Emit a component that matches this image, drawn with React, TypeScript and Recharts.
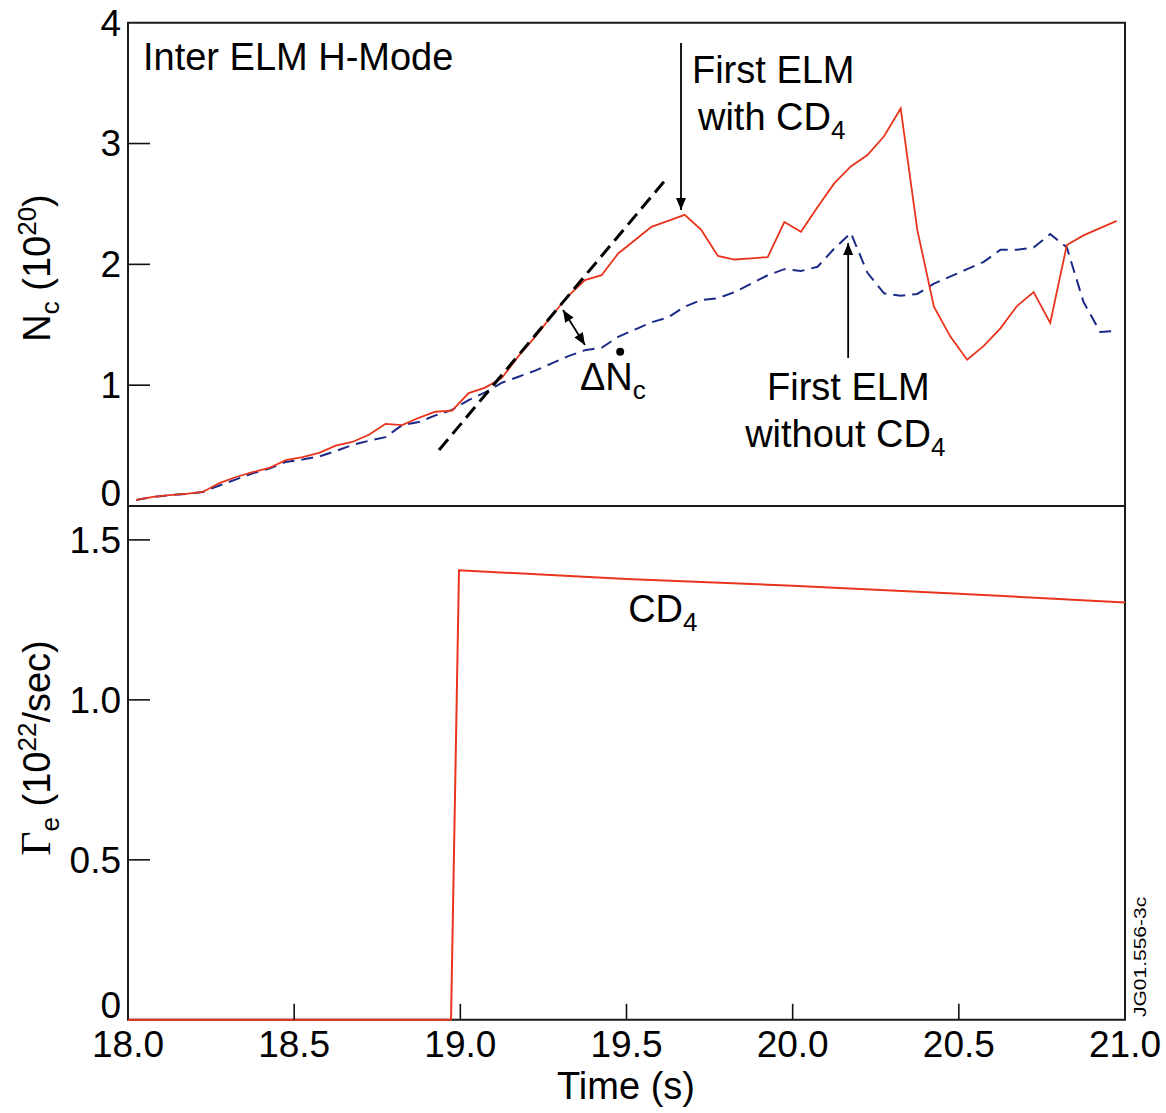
import React from 'react';
import { LineChart, Line, XAxis, YAxis, ReferenceLine, ReferenceDot, ReferenceArea } from 'recharts';

// ---------- data ----------
const timeNc = [
  18.025, 18.075, 18.125, 18.175, 18.225, 18.275, 18.325, 18.375, 18.425, 18.475,
  18.525, 18.575, 18.625, 18.675, 18.725, 18.775, 18.825, 18.875, 18.925, 18.975,
  19.025, 19.075, 19.125, 19.175, 19.225, 19.275, 19.325, 19.375, 19.425, 19.475,
  19.525, 19.575, 19.625, 19.675, 19.725, 19.775, 19.825, 19.875, 19.925, 19.975,
  20.025, 20.075, 20.125, 20.175, 20.225, 20.275, 20.325, 20.375, 20.425, 20.475,
  20.525, 20.575, 20.625, 20.675, 20.725, 20.775, 20.825, 20.875, 20.925, 20.975,
];
const ncWithCD4 = [
  0.05, 0.075, 0.09, 0.1, 0.116, 0.19, 0.24, 0.28, 0.315, 0.38,
  0.405, 0.44, 0.5, 0.53, 0.59, 0.68, 0.67, 0.73, 0.78, 0.79,
  0.935, 0.98, 1.06, 1.24, 1.4, 1.575, 1.74, 1.87, 1.91, 2.09,
  2.2, 2.31, 2.36, 2.41, 2.285, 2.07, 2.04, 2.05, 2.06, 2.35,
  2.27, 2.475, 2.67, 2.81, 2.905, 3.06, 3.29, 2.285, 1.65, 1.4,
  1.21, 1.325, 1.47, 1.655, 1.77, 1.515, 2.16, 2.24, 2.3, 2.36,
];
const ncWithoutCD4 = [
  0.05, 0.075, 0.09, 0.1, 0.116, 0.17, 0.22, 0.27, 0.31, 0.365,
  0.385, 0.41, 0.455, 0.505, 0.54, 0.57, 0.67, 0.695, 0.75, 0.795,
  0.877, 0.94, 1.02, 1.07, 1.12, 1.18, 1.24, 1.29, 1.31, 1.4,
  1.46, 1.52, 1.56, 1.65, 1.705, 1.72, 1.77, 1.84, 1.91, 1.96,
  1.945, 1.98, 2.13, 2.26, 1.93, 1.76, 1.74, 1.755, 1.84, 1.9,
  1.96, 2.02, 2.12, 2.12, 2.14, 2.25, 2.14, 1.69, 1.44, 1.45,
];
const gammaTime = [18.0, 18.972, 18.996, 19.5, 20.0, 20.5, 21.0];
const gammaCD4 = [0, 0, 1.405, 1.378, 1.357, 1.332, 1.304];

const timeTicks = [18.0, 18.5, 19.0, 19.5, 20.0, 20.5, 21.0];
const timeTickLabels = ['18.0', '18.5', '19.0', '19.5', '20.0', '20.5', '21.0'];
const ncTicks = [0, 1, 2, 3, 4];
const ncTickLabels = ['0', '1', '2', '3', '4'];
const gammaTicks = [0, 0.5, 1.0, 1.5];
const gammaTickLabels = ['0', '0.5', '1.0', '1.5'];

const ncData = timeNc.map((t, i) => ({ t, withCD4: ncWithCD4[i], withoutCD4: ncWithoutCD4[i] }));
const gammaData = gammaTime.map((t, i) => ({ t, cd4: gammaCD4[i] }));

// ---------- styles ----------
const FONT = "'Liberation Sans', Arial, Helvetica, sans-serif";
const SERIF = "'Liberation Serif', 'Times New Roman', serif";
const RED = '#e8341c';
const BLUE = '#1b2a86';
const INK = '#111';
const W = 1166;
const PLOT_LEFT = 128;
const RIGHT_MARGIN = 41;
const TOP_PLOT_BOTTOM = 506;
const TOP_EXTRA = 16;
const TOP_MARGIN = 22.7;
const BOT_H = 607;
const BOT_PLOT_H = 513.8;
const TICK_FS = 37;
const ANN_FS = 38;
const SUB_FS = 26;

const makeYTick = (labels: string[], values: number[], maxV: number, zeroShift: number) => (props: any) => {
  const { y, payload } = props;
  const v = payload.value;
  const idx = values.indexOf(v);
  const label = idx >= 0 ? labels[idx] : String(v);
  const dy = v === 0 ? zeroShift : 0;
  return (
    <g>
      {v > 0 && v < maxV && (
        <line x1={PLOT_LEFT} x2={PLOT_LEFT + 22} y1={y} y2={y} stroke={INK} strokeWidth={1.6} />
      )}
      <text x={PLOT_LEFT - 7} y={y + dy} dy="0.35em" textAnchor="end" fontFamily={FONT} fontSize={TICK_FS} fill="#000">
        {label}
      </text>
    </g>
  );
};

const TimeTick = (props: any) => {
  const { x, payload } = props;
  const v = payload.value;
  const idx = timeTicks.indexOf(v);
  return (
    <g>
      {v > 18 && v < 21 && (
        <line x1={x} x2={x} y1={BOT_PLOT_H} y2={BOT_PLOT_H - 16} stroke={INK} strokeWidth={1.6} />
      )}
      <text x={x} y={BOT_PLOT_H + 37} textAnchor="middle" fontFamily={FONT} fontSize={TICK_FS} fill="#000">
        {timeTickLabels[idx]}
      </text>
    </g>
  );
};

const arrowShape = (both: boolean) => (p: any) => {
  const { x1, y1, x2, y2 } = p;
  const head = 12;
  const half = 5;
  const a = Math.atan2(y2 - y1, x2 - x1);
  const c = Math.cos(a);
  const s = Math.sin(a);
  const headPts = (tx: number, ty: number, dir: number) => {
    const bx = tx - dir * head * c;
    const by = ty - dir * head * s;
    return `${tx},${ty} ${bx - half * s},${by + half * c} ${bx + half * s},${by - half * c}`;
  };
  return (
    <g>
      <line x1={x1} y1={y1} x2={x2} y2={y2} stroke="#000" strokeWidth={1.8} />
      <polygon points={headPts(x2, y2, 1)} fill="#000" />
      {both && <polygon points={headPts(x1, y1, -1)} fill="#000" />}
    </g>
  );
};

const textAt = (content: React.ReactNode, anchor: string = 'start') => (p: any) => (
  <text x={p.cx} y={p.cy} textAnchor={anchor} fontFamily={FONT} fontSize={ANN_FS} fill="#000">
    {content}
  </text>
);

const Sub = ({ children }: { children: React.ReactNode }) => (
  <tspan dy={9} fontSize={SUB_FS}>{children}</tspan>
);

export default function App() {
  return (
    <div style={{ position: 'absolute', left: 0, top: 0, width: W, height: 1113, background: '#fff', overflow: 'hidden' }}>
      <div style={{ position: 'absolute', left: 0, top: TOP_PLOT_BOTTOM }}>
        <LineChart width={W} height={BOT_H} data={gammaData} margin={{ top: 0, right: RIGHT_MARGIN, bottom: 0, left: 0 }}>
          <XAxis
            type="number"
            dataKey="t"
            domain={[18, 21]}
            ticks={timeTicks}
            interval={0}
            height={BOT_H - BOT_PLOT_H}
            axisLine={false}
            tickLine={false}
            tick={TimeTick}
          />
          <YAxis
            type="number"
            domain={[0, 1.606]}
            ticks={gammaTicks}
            interval={0}
            width={PLOT_LEFT}
            axisLine={false}
            tickLine={false}
            tick={makeYTick(gammaTickLabels, gammaTicks, 1.606, -15)}
          />
          <ReferenceArea x1={18} x2={21} y1={0} y2={1.606} fill="none" fillOpacity={0} stroke="#1a1a1a" strokeWidth={2} ifOverflow="visible" />
          <Line type="linear" dataKey="cd4" stroke={RED} strokeWidth={2} dot={false} isAnimationActive={false} />
          <ReferenceDot x={19.505} y={1.244} r={0} ifOverflow="visible" shape={textAt(<>CD<Sub>4</Sub></>)} />
        </LineChart>
      </div>
      <div style={{ position: 'absolute', left: 0, top: 0 }}>
        <LineChart width={W} height={TOP_PLOT_BOTTOM + TOP_EXTRA} data={ncData} margin={{ top: TOP_MARGIN, right: RIGHT_MARGIN, bottom: TOP_EXTRA, left: 0 }}>
          <XAxis type="number" dataKey="t" domain={[18, 21]} hide />
          <YAxis
            type="number"
            domain={[0, 4]}
            ticks={ncTicks}
            interval={0}
            width={PLOT_LEFT}
            axisLine={false}
            tickLine={false}
            tick={makeYTick(ncTickLabels, ncTicks, 4, -13)}
          />
          <ReferenceArea x1={18} x2={21} y1={0} y2={4} fill="none" fillOpacity={0} stroke="#1a1a1a" strokeWidth={2} ifOverflow="visible" />
          <Line type="linear" dataKey="withoutCD4" stroke={BLUE} strokeWidth={2} strokeDasharray="12 7" dot={false} isAnimationActive={false} />
          <Line type="linear" dataKey="withCD4" stroke={RED} strokeWidth={1.8} dot={false} isAnimationActive={false} />
          <ReferenceLine
            segment={[{ x: 18.936, y: 0.464 }, { x: 19.622, y: 2.715 }]}
            stroke="#000"
            strokeWidth={3}
            strokeDasharray="14 7"
            ifOverflow="visible"
          />
          <ReferenceLine segment={[{ x: 19.664, y: 3.833 }, { x: 19.664, y: 2.45 }]} ifOverflow="visible" shape={arrowShape(false)} />
          <ReferenceLine segment={[{ x: 20.167, y: 1.225 }, { x: 20.167, y: 2.177 }]} ifOverflow="visible" shape={arrowShape(false)} />
          <ReferenceLine segment={[{ x: 19.309, y: 1.623 }, { x: 19.375, y: 1.333 }]} ifOverflow="visible" shape={arrowShape(true)} />
          <ReferenceDot x={18.045} y={3.609} r={0} ifOverflow="visible" shape={textAt('Inter ELM H-Mode')} />
          <ReferenceDot x={19.697} y={3.502} r={0} ifOverflow="visible" shape={textAt('First ELM')} />
          <ReferenceDot x={19.715} y={3.113} r={0} ifOverflow="visible" shape={textAt(<>with CD<Sub>4</Sub></>)} />
          <ReferenceDot x={19.923} y={0.877} r={0} ifOverflow="visible" shape={textAt('First ELM')} />
          <ReferenceDot x={19.857} y={0.488} r={0} ifOverflow="visible" shape={textAt(<>without CD<Sub>4</Sub></>)} />
          <ReferenceDot x={19.36} y={0.96} r={0} ifOverflow="visible" shape={textAt(<>ΔN<Sub>c</Sub></>)} />
          <ReferenceDot x={19.481} y={1.277} r={4} fill="#000" stroke="none" ifOverflow="visible" />
        </LineChart>
      </div>
      <svg width={W} height={1113} style={{ position: 'absolute', left: 0, top: 0, pointerEvents: 'none' }}>
        <text transform="translate(50,268) rotate(-90)" textAnchor="middle" fontFamily={FONT} fontSize={ANN_FS} fill="#000">
          N<tspan dy={9} fontSize={SUB_FS}>c</tspan>
          <tspan dy={-9}> (10</tspan>
          <tspan dy={-14} fontSize={SUB_FS}>20</tspan>
          <tspan dy={14}>)</tspan>
        </text>
        <text transform="translate(50,748) rotate(-90)" textAnchor="middle" fontFamily={FONT} fontSize={ANN_FS} fill="#000">
          <tspan fontFamily={SERIF} fontSize={42}>Γ</tspan>
          <tspan dy={9} fontSize={SUB_FS}>e</tspan>
          <tspan dy={-9}> (10</tspan>
          <tspan dy={-14} fontSize={SUB_FS}>22</tspan>
          <tspan dy={14}>/sec)</tspan>
        </text>
        <text x={626} y={1099} textAnchor="middle" fontFamily={FONT} fontSize={ANN_FS} fill="#000">Time (s)</text>
        <text transform="translate(1146,1017) rotate(-90) scale(1,0.8)" textAnchor="start" fontFamily={FONT} fontSize={21} fill="#000">JG01.556-3c</text>
      </svg>
    </div>
  );
}
